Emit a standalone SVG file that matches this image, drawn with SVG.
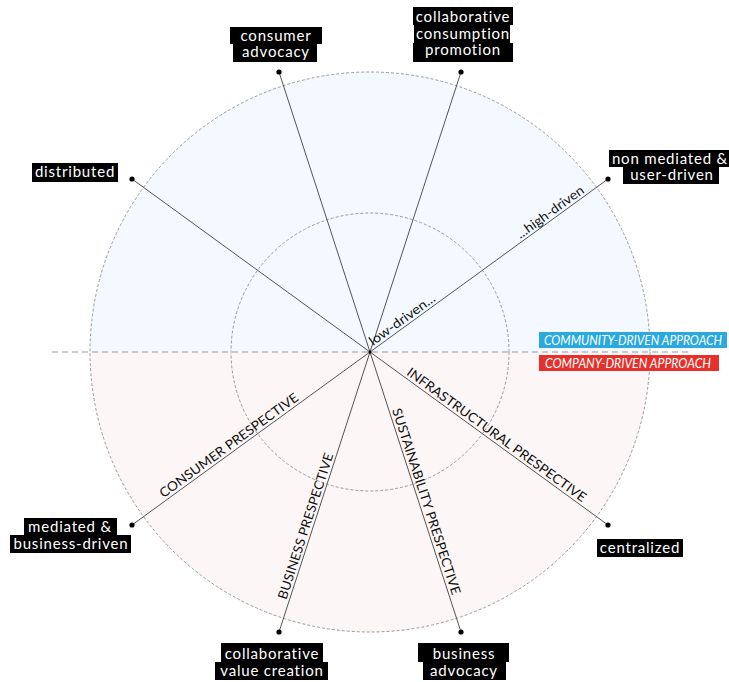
<svg xmlns="http://www.w3.org/2000/svg" width="729" height="682" viewBox="0 0 729 682">
<style>
.lbl{font-family:"Lato","Noto Sans",sans-serif;font-size:15px;fill:#fff;text-anchor:middle;letter-spacing:0.8px}
.box{fill:#000}
.ax{font-family:"Lato","Noto Sans",sans-serif;font-size:13px;fill:#111}
.ap{font-family:"Lato","Noto Sans",sans-serif;font-size:13px;font-style:italic;fill:#fff}
.spoke{stroke:#555;stroke-width:1}
.dot{fill:#000}
.circ{fill:none;stroke:#9a9a9a;stroke-width:1;stroke-dasharray:3 2}
</style>
<rect width="729" height="682" fill="#fff"/>
<g id="background">
<path d="M90,352 A280,280 0 0 1 650,352 Z" fill="#f3f9fe"/>
<path d="M90,352 A280,280 0 0 0 650,352 Z" fill="#fcf6f6"/>
<circle class="circ" cx="370" cy="352" r="280"/>
<circle class="circ" cx="370" cy="352" r="139"/>
<line x1="52" y1="352" x2="688" y2="352" stroke="#999" stroke-width="1" stroke-dasharray="6 4"/>
</g>
<g id="approaches">
<rect x="539" y="332" width="188" height="16" fill="#2aa8e0"/>
<text class="ap" x="544" y="345" textLength="178" lengthAdjust="spacingAndGlyphs">COMMUNITY-DRIVEN APPROACH</text>
<rect x="539" y="355" width="180" height="16" fill="#e6302b"/>
<text class="ap" x="545" y="368" textLength="166" lengthAdjust="spacingAndGlyphs">COMPANY-DRIVEN APPROACH</text>
</g>
<g id="connectors">
<line class="spoke" x1="132" y1="179" x2="608" y2="525"/>
<line class="spoke" x1="279" y1="72" x2="461" y2="632"/>
<line class="spoke" x1="461" y1="72" x2="279" y2="632"/>
<line class="spoke" x1="608" y1="179" x2="132" y2="525"/>
<circle class="dot" cx="370" cy="352" r="1.5"/>
<circle class="dot" cx="132" cy="179" r="2.6"/>
<circle class="dot" cx="279" cy="72" r="2.6"/>
<circle class="dot" cx="461" cy="72" r="2.6"/>
<circle class="dot" cx="608" cy="179" r="2.6"/>
<circle class="dot" cx="608" cy="525" r="2.6"/>
<circle class="dot" cx="461" cy="632" r="2.6"/>
<circle class="dot" cx="279" cy="632" r="2.6"/>
<circle class="dot" cx="132" cy="525" r="2.6"/>
</g>
<g id="axis-labels">
<g transform="translate(370,352) rotate(-36)">
<text class="ax" x="6" y="-3" textLength="78" lengthAdjust="spacingAndGlyphs">low-driven...</text>
<text class="ax" x="188" y="-3" textLength="80" lengthAdjust="spacingAndGlyphs">...high-driven</text>
<text class="ax" x="-253" y="-3" textLength="168" lengthAdjust="spacingAndGlyphs">CONSUMER PRESPECTIVE</text>
</g>
<g transform="translate(370,352) rotate(36)">
<text class="ax" x="42" y="-3" textLength="218" lengthAdjust="spacingAndGlyphs">INFRASTRUCTURAL PRESPECTIVE</text>
</g>
<g transform="translate(370,352) rotate(72)">
<text class="ax" x="62" y="-3" textLength="195" lengthAdjust="spacingAndGlyphs">SUSTAINABILITY PRESPECTIVE</text>
</g>
<g transform="translate(370,352) rotate(-72)">
<text class="ax" x="-262" y="-3" textLength="153" lengthAdjust="spacingAndGlyphs">BUSINESS PRESPECTIVE</text>
</g>
</g>
<g id="node-consumer-advocacy">
<rect class="box" x="230" y="27" width="92" height="17"/>
<rect class="box" x="233" y="44" width="84" height="18"/>
<text class="lbl" x="276" y="41">consumer</text>
<text class="lbl" x="276" y="57">advocacy</text>
</g>
<g id="node-collaborative-consumption-promotion">
<rect class="box" x="413" y="7" width="100" height="18"/>
<rect class="box" x="414" y="25" width="96" height="18"/>
<rect class="box" x="413" y="43" width="100" height="19"/>
<text class="lbl" x="463" y="22">collaborative</text>
<text class="lbl" x="463" y="38.5">consumption</text>
<text class="lbl" x="463" y="55">promotion</text>
</g>
<g id="node-distributed">
<rect class="box" x="32" y="163" width="86" height="19"/>
<text class="lbl" x="75" y="177">distributed</text>
</g>
<g id="node-non-mediated">
<rect class="box" x="609" y="150" width="120" height="17"/>
<rect class="box" x="623" y="167" width="96" height="17"/>
<text class="lbl" x="670" y="164">non mediated &amp;</text>
<text class="lbl" x="672" y="179.5">user-driven</text>
</g>
<g id="node-centralized">
<rect class="box" x="597" y="539" width="86" height="18"/>
<text class="lbl" x="640" y="553">centralized</text>
</g>
<g id="node-mediated">
<rect class="box" x="24" y="518" width="93" height="17"/>
<rect class="box" x="10" y="535" width="121" height="18"/>
<text class="lbl" x="70" y="532">mediated &amp;</text>
<text class="lbl" x="71" y="549">business-driven</text>
</g>
<g id="node-collaborative-value-creation">
<rect class="box" x="221" y="643" width="102" height="19"/>
<rect class="box" x="215" y="662" width="113" height="18"/>
<text class="lbl" x="272" y="658.5">collaborative</text>
<text class="lbl" x="272" y="676">value creation</text>
</g>
<g id="node-business-advocacy">
<rect class="box" x="418" y="643" width="91" height="19"/>
<rect class="box" x="423" y="662" width="83" height="18"/>
<text class="lbl" x="464" y="658.5">business</text>
<text class="lbl" x="464" y="676">advocacy</text>
</g>
</svg>
